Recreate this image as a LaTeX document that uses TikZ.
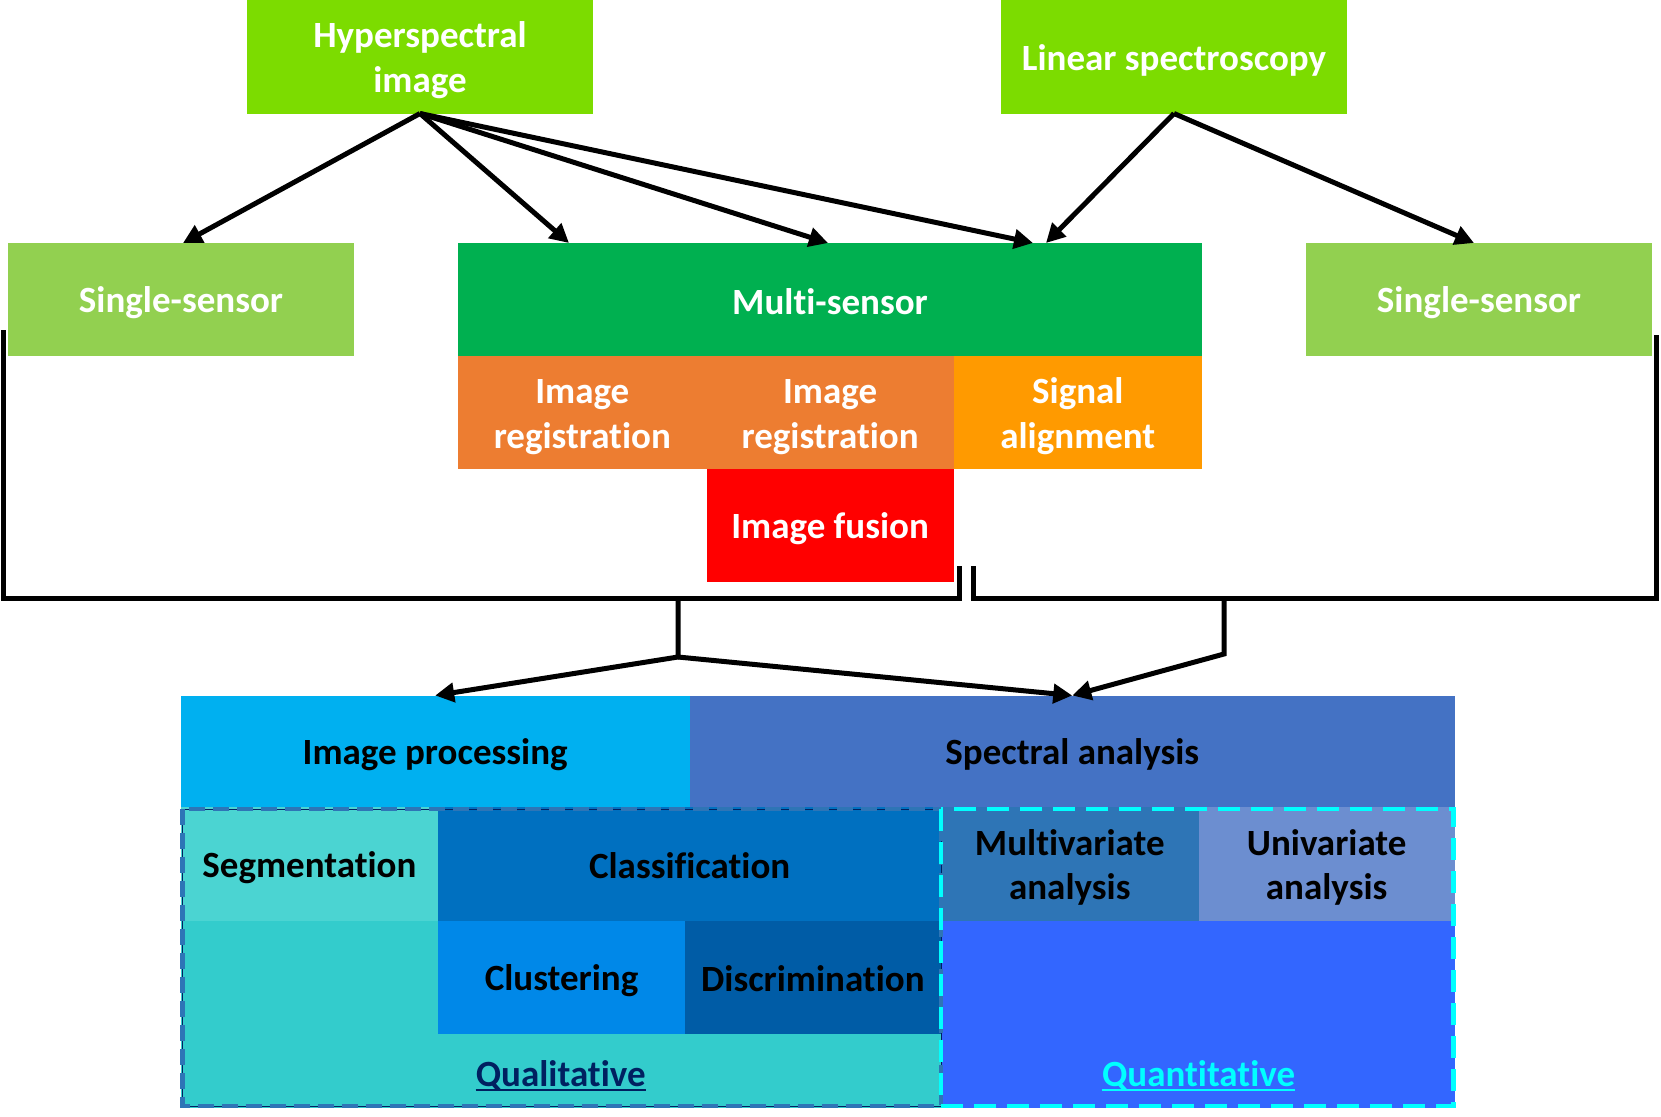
\documentclass[tikz,border=0pt]{standalone}
\usepackage{fontspec}
\setmainfont{Carlito}[Ligatures={NoCommon,NoRare},Contextuals=NoAlternate]
\usetikzlibrary{arrows.meta}
\definecolor{cHyp}{HTML}{7CDC00}
\definecolor{cSingle}{HTML}{92D050}
\definecolor{cMulti}{HTML}{00B050}
\definecolor{cReg}{HTML}{ED7D31}
\definecolor{cSig}{HTML}{FF9A00}
\definecolor{cFus}{HTML}{FF0000}
\definecolor{cIP}{HTML}{00B0F0}
\definecolor{cSA}{HTML}{4472C4}
\definecolor{cQualBg}{HTML}{33CCCC}
\definecolor{cSeg}{HTML}{4BD4D2}
\definecolor{cCls}{HTML}{0070C0}
\definecolor{cClu}{HTML}{0088E8}
\definecolor{cDis}{HTML}{005CA6}
\definecolor{cQuantBg}{HTML}{3366FF}
\definecolor{cMV}{HTML}{2E75B6}
\definecolor{cUV}{HTML}{6C8ED0}
\definecolor{cQualTxt}{HTML}{002060}
\definecolor{cQuantTxt}{HTML}{00FFFF}
\definecolor{cQualLine}{HTML}{2E75B6}
\newcommand{\sst}{\rule[-4pt]{0pt}{37pt}}
\begin{document}
\begin{tikzpicture}[x=1pt,y=-1pt,
  cell/.style={anchor=north west, inner sep=0pt, outer sep=0pt, align=center,
    font=\fontsize{37}{44.5}\selectfont\bfseries},
  wcell/.style={cell, text=white},
  bcell/.style={cell, text=black},
  conn/.style={line width=5pt, -{Triangle[length=19pt,width=19pt]}},
  brk/.style={line width=5pt, line join=miter},
  lbl/.style={inner sep=0pt, font=\fontsize{37}{44.5}\selectfont\bfseries}
]
\useasboundingbox (0,0) rectangle (1661,1116);

% top sources
\node[wcell, fill=cHyp, minimum width=346pt, minimum height=113.5pt] (hyp) at (247,0) {\sst Hyperspectral\\\sst image};
\node[wcell, fill=cHyp, minimum width=346pt, minimum height=113.5pt] (lin) at (1001,0) {\sst Linear spectroscopy};

% second row
\node[wcell, fill=cSingle, minimum width=346pt, minimum height=113pt] (ss1) at (8,243) {\sst Single-sensor};
\node[wcell, fill=cMulti, minimum width=744pt, minimum height=113pt] (ms) at (458,243) {\sst Multi-sensor};
\node[wcell, fill=cSingle, minimum width=346pt, minimum height=113pt] (ss2) at (1306,243) {\sst Single-sensor};
\node[wcell, fill=cReg, minimum width=248.6pt, minimum height=113pt] (ir1) at (458,356) {\sst Image\\\sst registration};
\node[wcell, fill=cReg, minimum width=247pt, minimum height=113pt] (ir2) at (706.6,356) {\sst Image\\\sst registration};
\node[wcell, fill=cSig, minimum width=248.4pt, minimum height=113pt] (sa) at (953.6,356) {\sst Signal\\\sst alignment};
\node[wcell, fill=cFus, minimum width=247pt, minimum height=112.5pt] (fus) at (706.6,469) {\sst Image fusion};

% arrow targets on the second row
\coordinate (t1) at (183,243);
\coordinate (t2) at (569,243);
\coordinate (t3) at (828,243);
\coordinate (t4) at (1033,243);
\coordinate (t5) at (1046,243);
\coordinate (t6) at (1474,243);
\draw[conn] (hyp.south) -- (t1);
\draw[conn] (hyp.south) -- (t2);
\draw[conn] (hyp.south) -- (t3);
\draw[conn] (hyp.south) -- (t4);
\draw[conn] (lin.south) -- (t5);
\draw[conn] (lin.south) -- (t6);

% brackets
\coordinate (bl1) at (3,330);
\coordinate (bl2) at (3,598);
\coordinate (bl3) at (959,598);
\coordinate (bl4) at (959,566);
\coordinate (br1) at (973,566);
\coordinate (br2) at (973,598);
\coordinate (br3) at (1656,598);
\coordinate (br4) at (1656,335);
\draw[brk] (bl1) -- (bl2) -- (bl3) -- (bl4);
\draw[brk] (br1) -- (br2) -- (br3) -- (br4);

% lower block
\node[bcell, fill=cIP, minimum width=509.2pt, minimum height=111.5pt] (ip) at (180.6,695.5) {\sst Image processing};
\node[bcell, fill=cSA, minimum width=764.9pt, minimum height=111.5pt] (sp) at (689.8,695.5) {\sst Spectral analysis};

\node[cell, fill=cQualBg, minimum width=760.4pt, minimum height=301pt] (qual) at (180.6,807) {};
\node[cell, fill=cQuantBg, minimum width=513.7pt, minimum height=301pt] (quant) at (941,807) {};

\node[bcell, fill=cSeg, minimum width=257.7pt, minimum height=114pt] (seg) at (180.6,807) {\sst Segmentation};
\node[bcell, fill=cCls, minimum width=502.7pt, minimum height=114pt] (cls) at (438.3,807) {\sst Classification};
\node[bcell, fill=cClu, minimum width=246.4pt, minimum height=112.5pt] (clu) at (438.3,921) {\sst Clustering};
\node[bcell, fill=cDis, minimum width=256.3pt, minimum height=112.5pt] (dis) at (684.7,921) {\sst Discrimination};
\node[bcell, fill=cMV, minimum width=257.5pt, minimum height=114pt] (mv) at (941,807) {\sst Multivariate\\\sst analysis};
\node[bcell, fill=cUV, minimum width=256.2pt, minimum height=114pt] (uv) at (1198.5,807) {\sst Univariate\\\sst analysis};

\node[lbl, text=cQualTxt] (qlt) at (560.7,1072) {\sst Qualitative};
\node[lbl, text=cQuantTxt] (qnt) at (1198.5,1072) {\sst Quantitative};
\draw[cQualTxt, line width=2.2pt] ([yshift=-4pt]qlt.base west) -- ([yshift=-4pt]qlt.base east);
\draw[cQuantTxt, line width=2.2pt] ([yshift=-4pt]qnt.base west) -- ([yshift=-4pt]qnt.base east);

% dashed frames
\draw[cQualTxt, line width=1pt] ([shift={(2,2)}]qual.north west) rectangle ([shift={(0,-2)}]qual.south east);
\draw[cQualLine, line width=4.5pt, dash pattern=on 16pt off 8pt] ([shift={(2,2)}]qual.north west) rectangle ([shift={(0,-2)}]qual.south east);
\draw[cQuantTxt, line width=4.5pt, dash pattern=on 22pt off 11pt] ([shift={(0,2)}]quant.north west) rectangle ([shift={(-1,-2)}]quant.south east);

% connectors to the lower block
\coordinate (s1a) at (678,598);
\coordinate (s1b) at (678,657);
\coordinate (s2a) at (1224,598);
\coordinate (s2b) at (1224,654);
\draw[conn] (s1a) -- (s1b) -- (ip.north);
\draw[conn] (s1b) -- (sp.north);
\draw[conn] (s2a) -- (s2b) -- (sp.north);
\end{tikzpicture}
\end{document}
